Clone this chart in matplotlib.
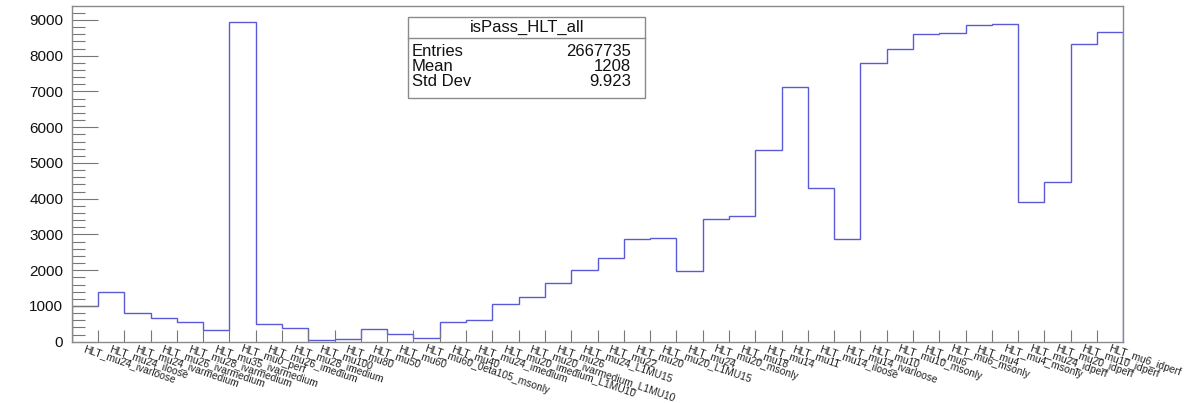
import numpy as np
import matplotlib.pyplot as plt

plt.rcParams['font.family'] = ['Liberation Sans', 'DejaVu Sans']

triggers = [
    'HLT_mu24_ivarloose', 'HLT_mu24_iloose', 'HLT_mu24_ivarmedium',
    'HLT_mu26_ivarmedium', 'HLT_mu28_ivarmedium', 'HLT_mu35_ivarmedium',
    'HLT_mu0_perf', 'HLT_mu26_imedium', 'HLT_mu28_imedium', 'HLT_mu100',
    'HLT_mu80', 'HLT_mu50', 'HLT_mu60', 'HLT_mu60_0eta105_msonly',
    'HLT_mu40', 'HLT_mu24_imedium', 'HLT_mu20_imedium_L1MU10',
    'HLT_mu20_ivarmedium_L1MU10', 'HLT_mu26', 'HLT_mu24_L1MU15',
    'HLT_mu22', 'HLT_mu20', 'HLT_mu20_L1MU15', 'HLT_mu24',
    'HLT_mu20_msonly', 'HLT_mu18', 'HLT_mu14', 'HLT_mu11',
    'HLT_mu14_iloose', 'HLT_mu14_ivarloose', 'HLT_mu10', 'HLT_mu10_msonly',
    'HLT_mu6', 'HLT_mu6_msonly', 'HLT_mu4', 'HLT_mu4_msonly',
    'HLT_mu24_idperf', 'HLT_mu20_idperf', 'HLT_mu10_idperf', 'HLT_mu6_idperf',
]

counts = [
    1000, 1400, 813, 673, 561, 320, 8944, 488, 393, 40,
    86, 348, 208, 114, 544, 617, 1056, 1260, 1643, 1998,
    2351, 2865, 2893, 1970, 3442, 3508, 5350, 7118, 4301, 2865,
    7788, 8198, 8601, 8636, 8870, 8879, 3909, 4459, 8329, 8656,
]

stats_title = 'isPass_HLT_all'
stats_names = ['Entries', 'Mean', 'Std Dev']
stats_values = ['2667735', '1208', '9.923']

W, H = 1185, 403
fig = plt.figure(figsize=(W / 100, H / 100), dpi=100)
ax = fig.add_axes([71.7 / W, 1 - 341.75 / H, (1123.3 - 71.7) / W, (341.75 - 6) / H])

nbins = len(counts)
edges = np.arange(nbins + 1)
ax.stairs(counts, edges, color='#5a5ad8', linewidth=1.0)

ax.set_xlim(0, nbins)
ax.set_ylim(0, 1.05 * max(counts))

frame = '#8a8a8a'
for s in ax.spines.values():
    s.set_color(frame)
    s.set_linewidth(1.0)

# y axis: long inward ticks, ROOT style
ax.set_yticks(np.arange(0, 9001, 1000))
ax.set_yticks(np.arange(0, 9400, 200), minor=True)
ax.tick_params(axis='y', which='major', direction='in', length=19, width=0.8,
               color='#777777', pad=6, labelsize=11, labelcolor='#111111')
ax.tick_params(axis='y', which='minor', direction='in', length=9.5, width=0.8,
               color='#777777')

# x axis: ticks at bin edges, labels at bin centers
ax.set_xticks(edges[1:-1])
ax.set_xticklabels([])
ax.set_xticks(edges[:-1] + 0.5, triggers, minor=True)
ax.tick_params(axis='x', which='major', direction='in', length=8.6, width=0.8,
               color='#777777')
ax.tick_params(axis='x', which='minor', length=0, pad=1.5, labelsize=7.4,
               labelcolor='#222222')
for lbl in ax.get_xticklabels(minor=True):
    lbl.set_rotation(-19)
    lbl.set_rotation_mode('anchor')
    lbl.set_ha('left')
    lbl.set_va('top')

# statistics box
bx0, bx1 = 408.3 / W, 645 / W
by0, by1 = 1 - 98.3 / H, 1 - 16.7 / H
sep = 1 - 37.7 / H
fig.patches.append(plt.Rectangle((bx0, by0), bx1 - bx0, by1 - by0,
                                 transform=fig.transFigure, facecolor='white',
                                 edgecolor=frame, linewidth=1.0, zorder=5))
fig.lines.append(plt.Line2D([bx0, bx1], [sep, sep], transform=fig.transFigure,
                            color=frame, linewidth=1.0, zorder=6))
fig.text((bx0 + bx1) / 2, 1 - 27.5 / H, stats_title, ha='center', va='center',
         fontsize=12, color='#111111', zorder=7)
for i, (name, val) in enumerate(zip(stats_names, stats_values)):
    yy = 1 - (51 + 15.2 * i) / H
    fig.text(411.7 / W, yy, name, ha='left', va='center', fontsize=12,
             color='#111111', zorder=7)
    fig.text(630.7 / W, yy, val, ha='right', va='center', fontsize=12,
             color='#111111', zorder=7)

fig.savefig('out.png', dpi=100)
